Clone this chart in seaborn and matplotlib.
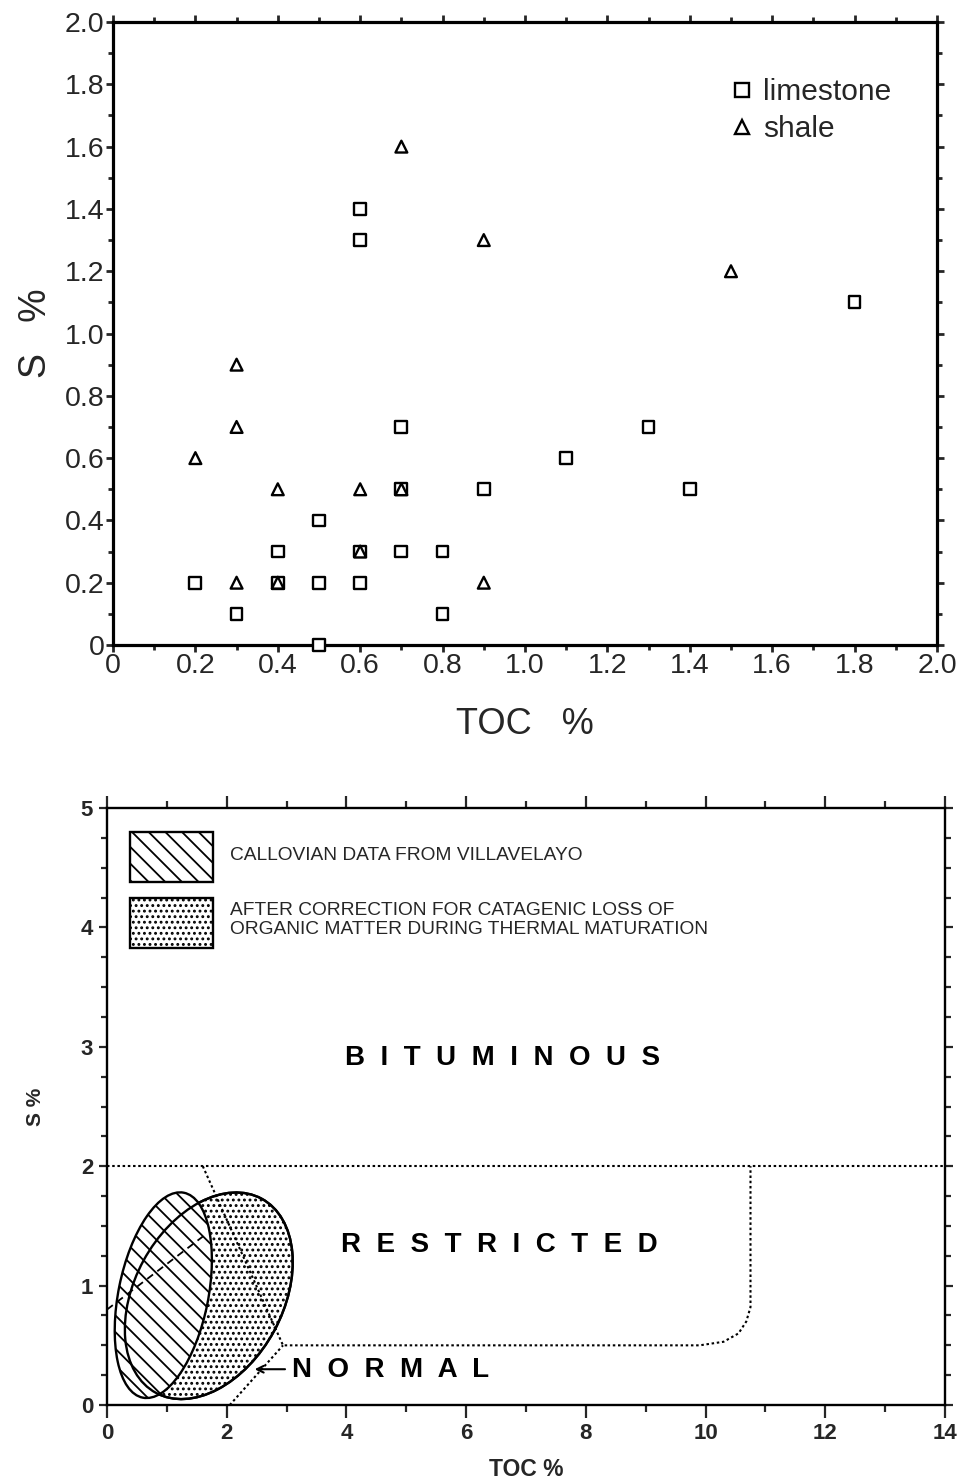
import numpy as np
import pandas as pd
import matplotlib
matplotlib.use("Agg")
import matplotlib.pyplot as plt
import seaborn as sns
from matplotlib.patches import Ellipse, Rectangle
from matplotlib.transforms import Affine2D
from matplotlib.ticker import MultipleLocator, FuncFormatter

# --- upper panel: S vs TOC by lithology ---
limestone_toc = [0.2, 0.3, 0.4, 0.4, 0.5, 0.5, 0.5, 0.6, 0.6, 0.6, 0.6,
                 0.7, 0.7, 0.7, 0.8, 0.8, 0.9, 1.1, 1.3, 1.4, 1.8]
limestone_s = [0.2, 0.1, 0.2, 0.3, 0.4, 0.2, 0.0, 1.4, 1.3, 0.3, 0.2,
               0.7, 0.5, 0.3, 0.3, 0.1, 0.5, 0.6, 0.7, 0.5, 1.1]
shale_toc = [0.2, 0.3, 0.3, 0.3, 0.4, 0.4, 0.6, 0.6, 0.7, 0.7, 0.9, 0.9, 1.5]
shale_s = [0.6, 0.9, 0.7, 0.2, 0.5, 0.2, 0.5, 0.3, 1.6, 0.5, 1.3, 0.2, 1.2]

# --- lower panel: field boundaries (TOC %, S %) ---
bitum_x = [0, 14]
bitum_y = [2, 2]
restricted_x = [1.6, 2.94, 9.9, 10.3, 10.55, 10.68, 10.75, 10.75]
restricted_y = [2.0, 0.5, 0.5, 0.53, 0.6, 0.7, 0.82, 2.0]
normal_x = [2.05, 2.94]
normal_y = [0.0, 0.5]
trend_x = [0.0, 1.65]
trend_y = [0.8, 1.43]

# ellipses: centre (TOC, S), width/height in screen-like units (TOC, 2*S), tilt deg
callovian_ell = dict(cx=0.94, cy=0.92, w=1.50, h=3.50, tilt=-11.3)
corrected_ell = dict(cx=1.70, cy=0.915, w=2.48, h=3.70, tilt=-28.5)

sns.set_theme(style="ticks")
plt.rcParams["font.family"] = ["Liberation Sans", "DejaVu Sans"]
plt.rcParams["hatch.linewidth"] = 1.3
plt.rcParams["axes.edgecolor"] = "black"

fig = plt.figure(figsize=(9.6, 14.79), dpi=100)
ax1 = fig.add_axes([0.1177, 0.5639, 0.8583, 0.4212])
ax2 = fig.add_axes([0.1115, 0.0500, 0.8729, 0.4037])

# ---------------- upper panel ----------------
df = pd.DataFrame({
    "TOC": limestone_toc + shale_toc,
    "S": limestone_s + shale_s,
    "rock": ["limestone"] * len(limestone_toc) + ["shale"] * len(shale_toc),
})
sns.scatterplot(data=df, x="TOC", y="S", style="rock",
                markers={"limestone": "s", "shale": "^"},
                color="white", edgecolor="black", linewidth=1.7, s=72,
                clip_on=False, zorder=3, ax=ax1)

ax1.set_xlim(0, 2.0)
ax1.set_ylim(0, 2.0)
fmt = FuncFormatter(lambda v, p: "0" if abs(v) < 1e-9 else f"{v:.1f}")
for axis in (ax1.xaxis, ax1.yaxis):
    axis.set_major_locator(MultipleLocator(0.2))
    axis.set_minor_locator(MultipleLocator(0.1))
    axis.set_major_formatter(fmt)
ax1.tick_params(which="both", direction="out", top=True, right=True,
                width=2, labelsize=20.5, pad=1)
ax1.tick_params(which="major", length=5)
ax1.tick_params(which="minor", length=3.5)
for sp in ax1.spines.values():
    sp.set_linewidth(2.3)
ax1.set_xlabel("TOC   %", fontsize=26, labelpad=20)
ax1.set_ylabel("S   %", fontsize=27, labelpad=8)

sns.move_legend(ax1, "upper right", bbox_to_anchor=(0.945, 0.91), title=None,
                frameon=False, fontsize=21.5, handletextpad=0.1,
                handlelength=1.2, markerscale=1.2,
                labelspacing=0.3, borderaxespad=0, borderpad=0)

# ---------------- lower panel ----------------
ax2.set_xlim(0, 14)
ax2.set_ylim(0, 5)


def field(e, **kw):
    tr = Affine2D().scale(1, 0.5).translate(e["cx"], e["cy"]) + ax2.transData
    return Ellipse((0, 0), e["w"], e["h"], angle=e["tilt"], transform=tr, **kw)


ax2.add_patch(field(corrected_ell, facecolor="white", edgecolor="black",
                    hatch="...", lw=1.7, zorder=2))
ax2.add_patch(field(callovian_ell, facecolor="white", edgecolor="black",
                    hatch="\\\\", lw=1.7, zorder=3))
ax2.add_patch(field(corrected_ell, fill=False, edgecolor="black", lw=1.7,
                    zorder=4))

dots = (0, (1.2, 1.3))
sns.lineplot(x=bitum_x, y=bitum_y, color="black", lw=1.5, ax=ax2, zorder=5,
             sort=False, estimator=None, linestyle=dots)
sns.lineplot(x=restricted_x, y=restricted_y, color="black", lw=1.5, ax=ax2,
             zorder=5, sort=False, estimator=None, linestyle=dots)
sns.lineplot(x=normal_x, y=normal_y, color="black", lw=1.5, ax=ax2, zorder=5,
             sort=False, estimator=None, linestyle=dots)
sns.lineplot(x=trend_x, y=trend_y, color="black", lw=1.3, ax=ax2, zorder=5,
             sort=False, estimator=None, linestyle=(0, (4, 3)))

bold = dict(fontweight="bold", color="black")
ax2.text(6.61, 2.91, "B  I  T  U  M  I  N  O  U  S", fontsize=20,
         ha="center", va="center", **bold)
ax2.text(6.56, 1.34, "R  E  S  T  R  I  C  T  E  D", fontsize=20,
         ha="center", va="center", **bold)
ax2.text(3.09, 0.29, "N  O  R  M  A  L", fontsize=20, ha="left",
         va="center", **bold)
ax2.annotate("", xy=(2.42, 0.30), xytext=(3.02, 0.30),
             arrowprops=dict(arrowstyle="->", lw=1.5, color="black"))

# key boxes
ax2.add_patch(Rectangle((0.0274, 0.876), 0.099, 0.084, transform=ax2.transAxes,
                        facecolor="white", edgecolor="black", hatch="\\\\",
                        lw=1.7, zorder=5))
ax2.add_patch(Rectangle((0.0274, 0.7655), 0.099, 0.084,
                        transform=ax2.transAxes, facecolor="white",
                        edgecolor="black", hatch="...", lw=1.7, zorder=5))
ax2.text(0.147, 0.9196, "CALLOVIAN DATA FROM VILLAVELAYO", fontsize=13.8,
         transform=ax2.transAxes, va="center", ha="left")
ax2.text(0.147, 0.8124,
         "AFTER CORRECTION FOR CATAGENIC LOSS OF\n"
         "ORGANIC MATTER DURING THERMAL MATURATION",
         fontsize=13.8, transform=ax2.transAxes, va="center", ha="left",
         linespacing=1.2)

ax2.xaxis.set_major_locator(MultipleLocator(2))
ax2.xaxis.set_minor_locator(MultipleLocator(1))
ax2.yaxis.set_major_locator(MultipleLocator(1))
ax2.yaxis.set_minor_locator(MultipleLocator(0.25))
ax2.tick_params(which="both", direction="out", top=True, right=True,
                width=1.6, labelsize=16, pad=4)
ax2.tick_params(axis="x", which="major", length=9)
ax2.tick_params(axis="x", which="minor", length=5)
ax2.tick_params(axis="y", which="major", length=6)
ax2.tick_params(axis="y", which="minor", length=4)
for lab in ax2.get_xticklabels() + ax2.get_yticklabels():
    lab.set_fontweight("bold")
for sp in ax2.spines.values():
    sp.set_linewidth(1.7)
ax2.set_xlabel("TOC %", fontsize=16.5, fontweight="bold", labelpad=10)
ax2.set_ylabel("S %", fontsize=15, fontweight="bold", labelpad=26)

fig.savefig("out.png", dpi=100, facecolor="white")
